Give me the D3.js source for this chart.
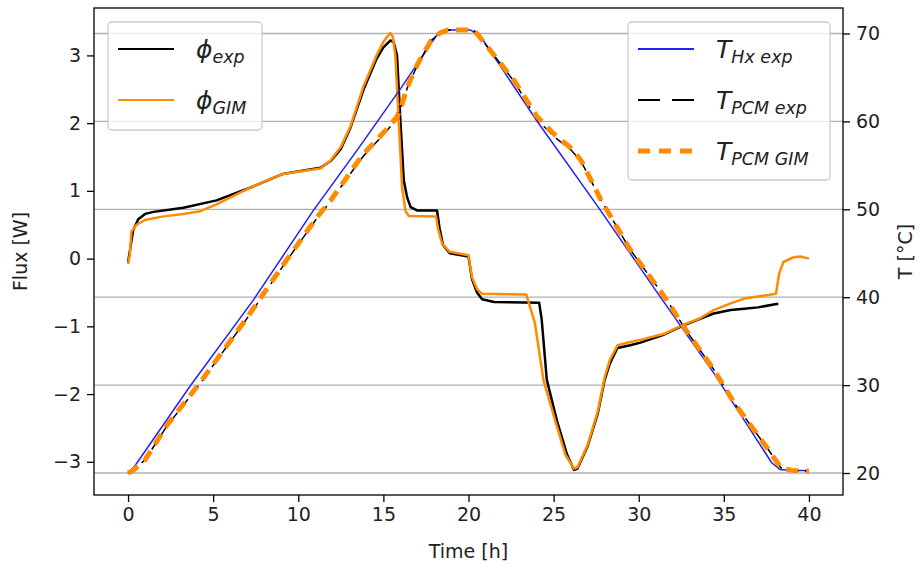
<!DOCTYPE html>
<html>
<head>
<meta charset="utf-8">
<script src="https://cdn.jsdelivr.net/npm/d3@7"></script>
<style>
  body { margin: 0; background: #fff; }
  svg { font-family: "DejaVu Sans", sans-serif; }
</style>
</head>
<body>
<svg id="chart" width="920" height="577"></svg>
<script>
// flux curves, [time h, flux W]
const phiExp = [[0,-0.05],[0.1,0.1],[0.3,0.42],[0.6,0.58],[1.0,0.66],[1.5,0.69],[3.25,0.75],[5.2,0.86],[7.2,1.05],
  [9.1,1.25],[10.5,1.31],[11.3,1.34],[11.9,1.44],[12.5,1.62],[13.06,1.93],[13.84,2.5],[14.6,2.95],[15.0,3.12],
  [15.4,3.22],[15.6,3.2],[15.8,3.0],[16.0,2.03],[16.2,1.15],[16.4,0.9],[16.6,0.76],[17,0.71],[18.15,0.71],
  [18.3,0.45],[18.5,0.2],[18.9,0.08],[20.0,0.03],[20.2,-0.3],[20.5,-0.5],[20.8,-0.6],[21.5,-0.64],[24.15,-0.65],
  [24.3,-0.9],[24.6,-1.79],[25.2,-2.4],[25.8,-2.9],[26.2,-3.12],[26.4,-3.1],[27.0,-2.77],[27.6,-2.28],[28.0,-1.79],
  [28.3,-1.55],[28.75,-1.32],[29.5,-1.28],[30.1,-1.24],[31.5,-1.12],[32.5,-1.0],[33.6,-0.89],[34.4,-0.81],
  [35.4,-0.76],[36.2,-0.74],[37.0,-0.72],[38.1,-0.67],[38.2,-0.67]];
const phiGim = [[0,-0.08],[0.1,0.05],[0.2,0.4],[0.5,0.5],[1.0,0.57],[2,0.62],[3.25,0.66],[4.24,0.7],[5.2,0.8],
  [7.2,1.05],[9.1,1.25],[10.5,1.3],[11.3,1.33],[11.9,1.45],[12.5,1.65],[13.06,1.95],[13.84,2.55],[14.6,3.0],
  [15.0,3.2],[15.4,3.33],[15.55,3.28],[15.7,3.0],[15.9,2.03],[16.1,1.05],[16.3,0.7],[16.5,0.63],[18.1,0.62],
  [18.2,0.45],[18.45,0.22],[18.9,0.1],[20.0,0.05],[20.2,-0.27],[20.5,-0.45],[20.8,-0.52],[23.4,-0.53],[23.6,-0.7],
  [23.9,-0.95],[24.4,-1.79],[25.1,-2.4],[25.7,-2.9],[26.2,-3.1],[26.4,-3.08],[27.0,-2.75],[27.6,-2.25],[28.0,-1.75],
  [28.3,-1.5],[28.75,-1.28],[29.5,-1.23],[30.1,-1.2],[31.5,-1.11],[32.5,-0.99],[33.6,-0.88],[34.4,-0.76],
  [35.4,-0.66],[36.2,-0.59],[37,-0.56],[38.06,-0.52],[38.25,-0.22],[38.5,-0.05],[39.1,0.02],[39.5,0.03],[40,0.0]];

// temperatures, [time h, T °C]
const tHxExp = [[0,20],[0.4,20.8],[3.65,29.9],[7.37,39.7],[10.9,49.9],[13.45,56.7],[16,63.7],[18.2,70.0],
  [18.6,70.4],[20.1,70.4],[20.7,69.7],[24,60.1],[27.6,50.3],[31.1,40.5],[34.4,31.4],[37.8,21.2],[38.3,20.4],
  [39,20.3],[40,20.3]];
const tPcmExp = [[0,20],[0.3,20.3],[1,21.5],[2.27,25.3],[4.24,30.2],[7.18,38.1],[9.3,44.1],[11.1,49.0],[11.9,50.9],
  [13.45,55.1],[13.84,56.1],[15.0,58.5],[15.8,60.3],[16.1,61.9],[16.4,63.8],[17,66.4],[17.8,69.2],[18.35,70.1],
  [18.8,70.4],[20.3,70.4],[20.7,69.5],[22.7,64.5],[24.0,60.3],[25.0,58.3],[26.0,56.8],[26.6,55.5],[27.8,51.0],
  [29.5,45.4],[31.5,40.1],[32.9,35.9],[34.4,31.8],[35.6,28.0],[37.6,22.7],[38.35,20.6],[39.0,20.3],[40,20.2]];
const tPcmGim = [[0,20],[0.3,20.3],[1,21.5],[2.27,25.4],[4.24,30.3],[7.18,38.2],[9.3,44.2],[11.1,49.1],[11.9,51.0],
  [13.45,55.3],[13.84,56.3],[15.0,58.7],[15.8,60.5],[16.1,62.0],[16.4,63.9],[17,66.5],[17.8,69.2],[18.35,70.1],
  [18.8,70.4],[20.3,70.4],[20.7,69.5],[22.7,64.6],[24.0,60.6],[25.0,58.6],[26.0,57.0],[26.6,55.6],[27.8,51.0],
  [29.5,45.4],[31.5,40.1],[32.9,35.9],[34.4,31.8],[35.6,28.0],[37.6,22.7],[38.35,20.6],[39.0,20.3],[40,20.2]];

const timeTicks = [0, 5, 10, 15, 20, 25, 30, 35, 40];
const fluxTicks = [-3, -2, -1, 0, 1, 2, 3];
const tempTicks = [20, 30, 40, 50, 60, 70];

const svg = d3.select('#chart');
const box = {left: 94, right: 843, top: 8, bottom: 495};

const x = d3.scaleLinear().domain([-2, 42]).range([box.left, box.right]);
const yFlux = d3.scaleLinear().domain([-3.49, 3.70]).range([box.bottom, box.top]);
const yTemp = d3.scaleLinear().domain([17.5, 72.9]).range([box.bottom, box.top]);

// grid from the temperature axis
svg.append('g').selectAll('line').data(tempTicks).join('line')
  .attr('x1', box.left).attr('x2', box.right)
  .attr('y1', d => yTemp(d)).attr('y2', d => yTemp(d))
  .attr('stroke', '#b0b0b0').attr('stroke-width', 1.3);

const lineFlux = d3.line().x(d => x(d[0])).y(d => yFlux(d[1]));
const lineTemp = d3.line().x(d => x(d[0])).y(d => yTemp(d[1]));

svg.append('path').datum(phiExp).attr('d', lineFlux)
  .attr('fill', 'none').attr('stroke', 'black').attr('stroke-width', 2.5).attr('stroke-linejoin', 'round');
svg.append('path').datum(phiGim).attr('d', lineFlux)
  .attr('fill', 'none').attr('stroke', '#ff8c00').attr('stroke-width', 2.5).attr('stroke-linejoin', 'round');

svg.append('path').datum(tHxExp).attr('d', lineTemp)
  .attr('fill', 'none').attr('stroke', '#2020ff').attr('stroke-width', 1.5);
svg.append('path').datum(tPcmExp).attr('d', lineTemp)
  .attr('fill', 'none').attr('stroke', 'black').attr('stroke-width', 1.5).attr('stroke-dasharray', '11,6');
svg.append('path').datum(tPcmGim).attr('d', lineTemp)
  .attr('fill', 'none').attr('stroke', '#ff8c00').attr('stroke-width', 5).attr('stroke-dasharray', '12,8');

// axes
const fs = 19;
const ax = svg.append('g').attr('transform', `translate(0,${box.bottom})`)
  .call(d3.axisBottom(x).tickValues(timeTicks).tickSize(7).tickPadding(6));
const axL = svg.append('g').attr('transform', `translate(${box.left},0)`)
  .call(d3.axisLeft(yFlux).tickValues(fluxTicks).tickSize(7).tickPadding(6).tickFormat(d => d < 0 ? '\u2212' + (-d) : d));
const axR = svg.append('g').attr('transform', `translate(${box.right},0)`)
  .call(d3.axisRight(yTemp).tickValues(tempTicks).tickSize(7).tickPadding(6));
[ax, axL, axR].forEach(g => {
  g.select('.domain').remove();
  g.selectAll('line').attr('stroke', 'black').attr('stroke-width', 1.3);
  g.selectAll('text').attr('font-size', fs).attr('font-family', 'DejaVu Sans').attr('fill', '#222');
});

svg.append('rect').attr('x', box.left).attr('y', box.top)
  .attr('width', box.right - box.left).attr('height', box.bottom - box.top)
  .attr('fill', 'none').attr('stroke', 'black').attr('stroke-width', 1.3);

svg.append('text').attr('x', x(20)).attr('y', 558).attr('text-anchor', 'middle')
  .attr('font-size', fs).attr('fill', '#222').text('Time [h]');
svg.append('text').attr('transform', `translate(27,${(box.top + box.bottom) / 2}) rotate(-90)`)
  .attr('text-anchor', 'middle').attr('font-size', fs).attr('fill', '#222').text('Flux [W]');
svg.append('text').attr('transform', `translate(912,${(box.top + box.bottom) / 2}) rotate(-90)`)
  .attr('text-anchor', 'middle').attr('font-size', fs).attr('fill', '#222').text('T [°C]');

// legends
function legend(x0, y0, w, h, items) {
  const g = svg.append('g');
  g.append('rect').attr('x', x0).attr('y', y0).attr('width', w).attr('height', h).attr('rx', 4)
    .attr('fill', 'white').attr('fill-opacity', 0.8).attr('stroke', '#cccccc').attr('stroke-width', 1.3);
  items.forEach((it, i) => {
    const ly = y0 + 27 + i * 51;
    g.append('line').attr('x1', x0 + 10).attr('x2', x0 + 66).attr('y1', ly).attr('y2', ly)
      .attr('stroke', it.color).attr('stroke-width', it.width).attr('stroke-dasharray', it.dash || null);
    const t = g.append('text').attr('x', x0 + 88).attr('y', ly + 9)
      .attr('font-style', 'italic').attr('font-size', 25).attr('fill', '#222');
    t.append('tspan').text(it.main);
    t.append('tspan').attr('font-size', 17.5).attr('dy', 5).text(it.sub);
  });
}
legend(108, 22, 154, 108, [
  {main: 'ϕ', sub: 'exp', color: 'black', width: 2},
  {main: 'ϕ', sub: 'GIM', color: '#ff8c00', width: 2}
]);
legend(628, 22, 202, 158, [
  {main: 'T', sub: 'Hx exp', color: '#2020ff', width: 1.8},
  {main: 'T', sub: 'PCM exp', color: 'black', width: 1.8, dash: '22,12'},
  {main: 'T', sub: 'PCM GIM', color: '#ff8c00', width: 5, dash: '12,9'}
]);
</script>
</body>
</html>
